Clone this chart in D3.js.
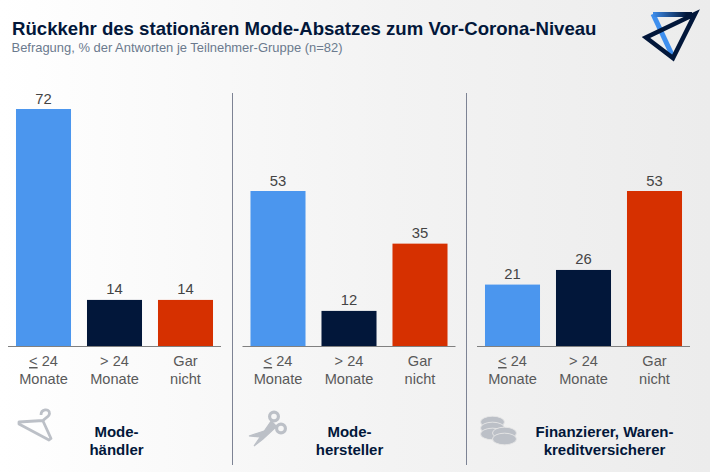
<!DOCTYPE html>
<html><head><meta charset="utf-8">
<script src="https://cdn.jsdelivr.net/npm/d3@7"></script>
<style>
html,body{margin:0;padding:0;background:#fff}
svg{display:block}
text{font-family:"Liberation Sans",Arial,sans-serif}
</style></head><body><svg id="c" width="710" height="472"></svg>
<script>
const titleText="Rückkehr des stationären Mode-Absatzes zum Vor-Corona-Niveau";
const subtitleText="Befragung, % der Antworten je Teilnehmer-Gruppe (n=82)";
const categories=["le24","gt24","none"];
const catLine1=["< 24","> 24","Gar"];
const catLine2=["Monate","Monate","nicht"];
const colors=["#4b96ee","#02173a","#d63000"];
const panelNames=[["Mode-","händler"],["Mode-","hersteller"],["Finanzierer, Waren-","kreditversicherer"]];
const valuesHaendler=[72,14,14];
const valuesHersteller=[53,12,35];
const valuesFinanzierer=[21,26,53];
const panelValues=[valuesHaendler,valuesHersteller,valuesFinanzierer];
const W=710,H=472;
const svg=d3.select("#c");
const defs=svg.append("defs");
const bg=defs.append("linearGradient").attr("id","bg").attr("x1",0).attr("x2",1).attr("y1",0).attr("y2",0);
bg.append("stop").attr("offset","0").attr("stop-color","#ffffff");
bg.append("stop").attr("offset","0.55").attr("stop-color","#f3f3f3");
bg.append("stop").attr("offset","1").attr("stop-color","#ececec");
const lg=defs.append("linearGradient").attr("id","lg").attr("gradientUnits","userSpaceOnUse").attr("x1",652).attr("x2",698).attr("y1",14).attr("y2",14);
lg.append("stop").attr("offset","0").attr("stop-color","#3f8fee");
lg.append("stop").attr("offset","0.75").attr("stop-color","#02173a");
svg.append("rect").attr("width",W).attr("height",H).attr("fill","url(#bg)");

svg.append("text").attr("x",12).attr("y",35).attr("font-size",18.6).attr("font-weight","bold").attr("fill","#02173a").text(titleText);
svg.append("text").attr("x",11.5).attr("y",52).attr("font-size",12.95).attr("fill","#6b7a8e").text(subtitleText);

// logo
svg.append("path").attr("d","M653 14L673 57").attr("stroke","#3f8fee").attr("stroke-width",5).attr("fill","none");
svg.append("path").attr("d","M653 14.5L692 14.5").attr("stroke","url(#lg)").attr("stroke-width",5).attr("fill","none");
svg.append("path").attr("d","M695 14L646 37.5L673 58Z").attr("stroke","#02173a").attr("stroke-width",4.5).attr("fill","none").attr("stroke-linejoin","miter");

const baseY=346;
const panelX=[8,242.5,477];
const panelW=213;
const yTops=[109,191,191];
const nameXs=[116.5,349.5,604.5];

panelValues.forEach((vals,p)=>{
  const g=svg.append("g");
  const x=d3.scaleBand().domain(categories).range([panelX[p],panelX[p]+panelW]).paddingInner(0.225).paddingOuter(0.1125);
  const y=d3.scaleLinear().domain([0,d3.max(vals)]).range([baseY,yTops[p]]);
  g.selectAll("rect.bar").data(vals).join("rect").attr("class","bar")
    .attr("x",(d,i)=>x(categories[i])).attr("width",x.bandwidth())
    .attr("y",d=>y(d)).attr("height",d=>baseY-y(d)).attr("fill",(d,i)=>colors[i]);
  g.selectAll("text.val").data(vals).join("text").attr("class","val")
    .attr("x",(d,i)=>x(categories[i])+x.bandwidth()/2).attr("y",d=>y(d)-5.5)
    .attr("text-anchor","middle").attr("font-size",14.8).attr("fill","#444").text(d=>d);
  g.append("line").attr("x1",panelX[p]).attr("x2",panelX[p]+panelW).attr("y1",346.5).attr("y2",346.5).attr("stroke","#808080").attr("stroke-width",1.2);
  categories.forEach((c,i)=>{
    const cx=x(c)+x.bandwidth()/2;
    const t1=g.append("text").attr("x",cx).attr("y",366).attr("text-anchor","middle").attr("font-size",14.6).attr("fill","#595959");
    if(c==="le24"){
      t1.append("tspan").attr("text-decoration","underline").text("<");
      t1.append("tspan").text(" 24");
    } else t1.text(catLine1[i]);
    g.append("text").attr("x",cx).attr("y",383.5).attr("text-anchor","middle").attr("font-size",14.6).attr("fill","#595959").text(catLine2[i]);
  });
  panelNames[p].forEach((s,i)=>{
    g.append("text").attr("x",nameXs[p]).attr("y",437+i*18).attr("text-anchor","middle").attr("font-size",15).attr("font-weight","bold").attr("fill","#02173a").text(s);
  });
});

// separators
[232.5,466.5].forEach(xp=>svg.append("line").attr("x1",xp).attr("x2",xp).attr("y1",93).attr("y2",465).attr("stroke","#7d8394").attr("stroke-width",1));

// icons
const ic="#bcc0c7";
// hanger
svg.append("path").attr("d","M41 415C41 409 49 408 49.5 413C50 417 44 418 43 421L51 438.5L49 440L19 424L19 422L43 420.5")
  .attr("fill","none").attr("stroke",ic).attr("stroke-width",2.8).attr("stroke-linejoin","round");
// scissors
const sc=svg.append("g").attr("stroke",ic).attr("fill","none");
sc.append("circle").attr("cx",274).attr("cy",416.5).attr("r",4.4).attr("stroke-width",3.2);
sc.append("circle").attr("cx",281).attr("cy",428.5).attr("r",4.4).attr("stroke-width",3.2);
sc.append("path").attr("d","M271.5 420.5L254 446L263 439L277 426").attr("fill",ic).attr("stroke-width",1.2);
sc.append("path").attr("d","M276.5 427L249 436L262 437L271 422").attr("fill",ic).attr("stroke-width",1.2);
// coins
const co=svg.append("g").attr("fill",ic).attr("stroke","#e6e6e6").attr("stroke-width",0.9);
[[492.5,422],[492.5,428],[492.5,434],[504.5,433],[504.5,439]].forEach(([cx,cy])=>{
  co.append("ellipse").attr("cx",cx).attr("cy",cy).attr("rx",12).attr("ry",5.8);
});
</script></body></html>
